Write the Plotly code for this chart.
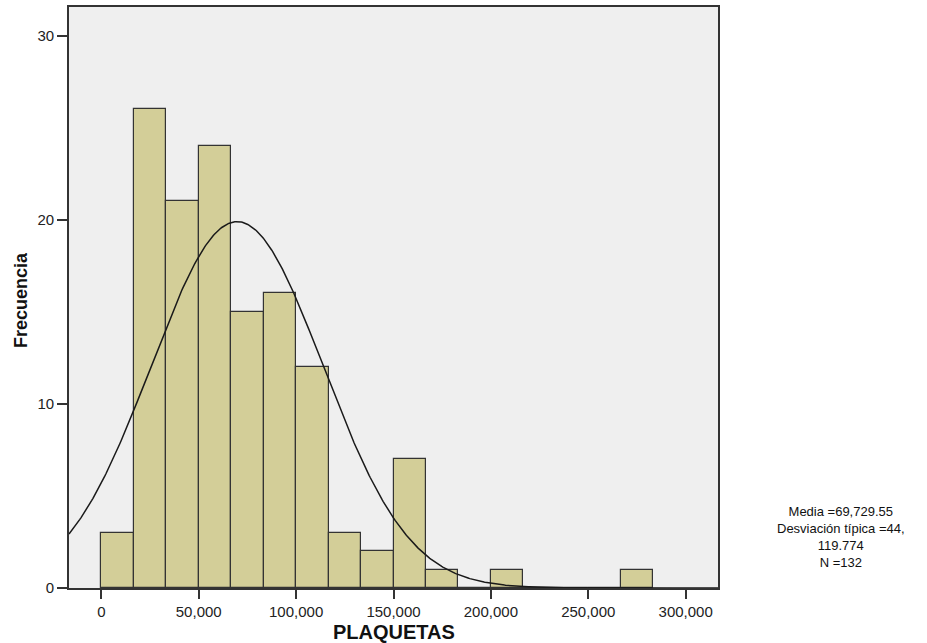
import numpy as np
import plotly.graph_objects as go

# Data
bin_width = 300000 / 18
bin_starts = [i * bin_width for i in range(17)]
counts = [3, 26, 21, 24, 15, 16, 12, 3, 2, 7, 1, 0, 1, 0, 0, 0, 1]
mean = 69729.55
sd = 44119.774
n = 132
x_tick_vals = [0, 50000, 100000, 150000, 200000, 250000, 300000]
x_tick_text = ["0", "50,000", "100,000", "150,000", "200,000", "250,000", "300,000"]
y_tick_vals = [0, 10, 20, 30]
stats_lines = ["Media =69,729.55", "Desviación típica =44,", "119.774", "N =132"]

centers = [s + bin_width / 2 for s in bin_starts]

xr = [-16600, 316600]
xc = np.linspace(xr[0], xr[1], 600)
yc = n * bin_width / (sd * np.sqrt(2 * np.pi)) * np.exp(-0.5 * ((xc - mean) / sd) ** 2)

fig = go.Figure()
fig.add_trace(go.Bar(
    x=centers, y=counts, width=bin_width,
    marker=dict(color="#d3ce98", line=dict(color="#333333", width=1.2)),
    hoverinfo="skip",
))
fig.add_trace(go.Scatter(
    x=xc, y=yc, mode="lines",
    line=dict(color="#1a1a1a", width=1.5), hoverinfo="skip",
))

FF = "Liberation Sans, Arial, sans-serif"
axis_font = dict(family=FF, size=15, color="#222222")
L, R, T, B = 69, 209, 7, 55
W, H = 927, 643
plot_w = W - L - R
plot_h = H - T - B

def px_x(p):
    return (p - L) / plot_w

def px_y(p):
    return (H - B - p) / plot_h

annotations = [
    dict(x=px_x(841), y=px_y(537), xref="paper", yref="paper", showarrow=False,
         xanchor="center", yanchor="middle", align="center",
         text="<br>".join(stats_lines), font=dict(family=FF, size=13, color="#111111")),
    dict(x=px_x(394), y=px_y(632), xref="paper", yref="paper", showarrow=False,
         xanchor="center", yanchor="middle",
         text="<b>PLAQUETAS</b>", font=dict(family=FF, size=20, color="#111111")),
    dict(x=px_x(21), y=px_y(300), xref="paper", yref="paper", showarrow=False,
         xanchor="center", yanchor="middle", textangle=-90,
         text="<b>Frecuencia</b>", font=dict(family=FF, size=18, color="#111111")),
]

fig.update_layout(
    width=W, height=H,
    margin=dict(l=L, r=R, t=T, b=B, autoexpand=False),
    paper_bgcolor="white", plot_bgcolor="#efefef",
    showlegend=False, bargap=0,
    font=dict(family=FF, color="#222222"),
    xaxis=dict(
        range=xr, tickvals=x_tick_vals, ticktext=x_tick_text,
        ticks="outside", ticklen=9, tickwidth=1.5, tickcolor="#333333",
        showgrid=False, zeroline=False, showline=True, linecolor="#333333",
        linewidth=1.8, mirror=True, tickfont=axis_font, automargin=False,
    ),
    yaxis=dict(
        range=[0, 31.55], tickvals=y_tick_vals,
        ticks="outside", ticklen=10, tickwidth=1.5, tickcolor="#333333",
        showgrid=False, zeroline=False, showline=True, linecolor="#333333",
        linewidth=1.8, mirror=True, tickfont=axis_font, automargin=False,
    ),
    annotations=annotations,
)

fig.write_html("out.html")
